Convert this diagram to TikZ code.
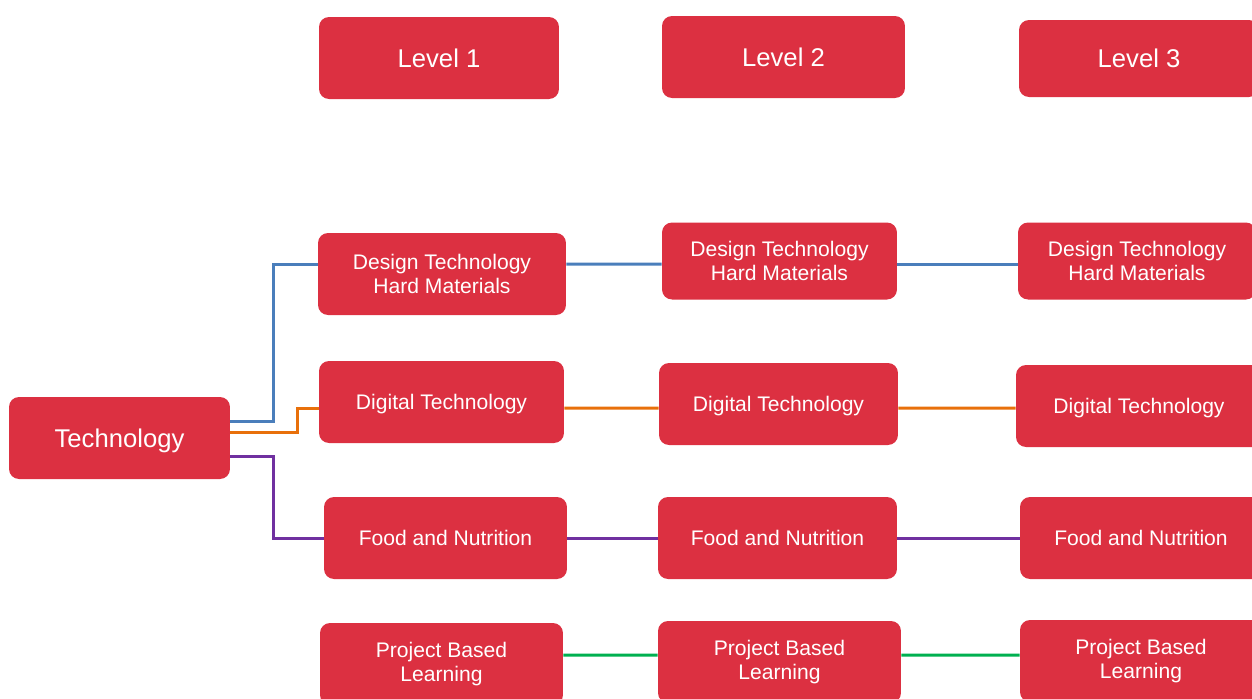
\documentclass[tikz,border=0pt]{standalone}
\usepackage{fontspec}
\setmainfont{Liberation Sans}
\usetikzlibrary{positioning}
\definecolor{boxred}{HTML}{DC3041}
\definecolor{lnblue}{HTML}{4A7EBB}
\definecolor{lnorange}{HTML}{E8700A}
\definecolor{lnpurple}{HTML}{7030A0}
\definecolor{lngreen}{HTML}{00B050}
\tikzset{
  redbox/.style={fill=boxred,rounded corners=0.2cm,text=white,inner sep=0pt,
    minimum height=1.64cm,font=\fontsize{12}{13.6}\selectfont,text height=8.6pt,text depth=0pt},
  twoline/.style={redbox,align=center,text height=,text depth=},
  bigbox/.style={redbox,font=\fontsize{14.6}{16}\selectfont,text height=10.45pt},
  link/.style={line width=1.7pt}
}

\begin{document}
\begin{tikzpicture}[x=0.02cm,y=-0.02cm]
  \useasboundingbox (0,0) rectangle (1252,698);
  \clip (0,0) rectangle (1252,698);
  % level headings
  \node[bigbox,minimum width=4.8cm] (lvlA) at (439,58){Level 1};
  \node[bigbox,minimum width=4.86cm] (lvlB) at (783.5,57){Level 2};
  \node[bigbox,minimum width=4.8cm,minimum height=1.54cm] (lvlC) at (1139,58.5){Level 3};
  % root
  \node[bigbox,minimum width=4.42cm] (tech) at (119.5,438){Technology};
  % design technology
  \node[twoline,minimum width=4.96cm] (dtA) at (442,274){Design Technology\\Hard Materials};
  \node[twoline,minimum width=4.7cm,minimum height=1.54cm] (dtB) at (779.5,261){Design Technology\\Hard Materials};
  \node[twoline,minimum width=4.76cm,minimum height=1.54cm] (dtC) at (1137,261){Design Technology\\Hard Materials};
  % digital technology
  \node[redbox,minimum width=4.9cm] (digA) at (441.5,402){Digital Technology};
  \node[redbox,minimum width=4.78cm] (digB) at (778.5,404){Digital Technology};
  \node[redbox,minimum width=4.92cm] (digC) at (1139,406){Digital Technology};
  % food
  \node[redbox,minimum width=4.86cm] (foodA) at (445.5,538){Food and Nutrition};
  \node[redbox,minimum width=4.78cm] (foodB) at (777.5,538){Food and Nutrition};
  \node[redbox,minimum width=4.84cm] (foodC) at (1141,538){Food and Nutrition};
  % project based learning
  \node[twoline,minimum width=4.86cm] (pblA) at (441.5,664){Project Based\\Learning};
  \node[twoline,minimum width=4.86cm] (pblB) at (779.5,662){Project Based\\Learning};
  \node[twoline,minimum width=4.84cm] (pblC) at (1141,661){Project Based\\Learning};

  % connectors
  \draw[link,lnblue] ([yshift=0.34cm]tech.east) -- ++(43,0) |- ([yshift=0.2cm]dtA.west);
  \draw[link,lnblue] ([yshift=0.2cm]dtA.east) -- ([yshift=-0.06cm]dtB.west);
  \draw[link,lnblue] ([yshift=-0.06cm]dtB.east) -- ([yshift=-0.06cm]dtC.west);
  \draw[link,lnorange] ([yshift=0.12cm]tech.east) -- ++(67,0) |- ([yshift=-0.12cm]digA.west);
  \draw[link,lnorange] ([yshift=-0.12cm]digA.east) -- ([yshift=-0.08cm]digB.west);
  \draw[link,lnorange] ([yshift=-0.08cm]digB.east) -- ([yshift=-0.04cm]digC.west);
  \draw[link,black,opacity=0.2,shift={(2,3)}] ([yshift=-0.36cm]tech.east) -- ++(43,0) |- (foodA.west);
  \draw[link,lnpurple] ([yshift=-0.36cm]tech.east) -- ++(43,0) |- (foodA.west);
  \draw[link,lnpurple] (foodA.east) -- (foodB.west);
  \draw[link,lnpurple] (foodB.east) -- (foodC.west);
  \draw[link,lngreen] ([yshift=0.18cm]pblA.east) -- ([yshift=0.14cm]pblB.west);
  \draw[link,lngreen] ([yshift=0.14cm]pblB.east) -- ([yshift=0.12cm]pblC.west);
\end{tikzpicture}
\end{document}
